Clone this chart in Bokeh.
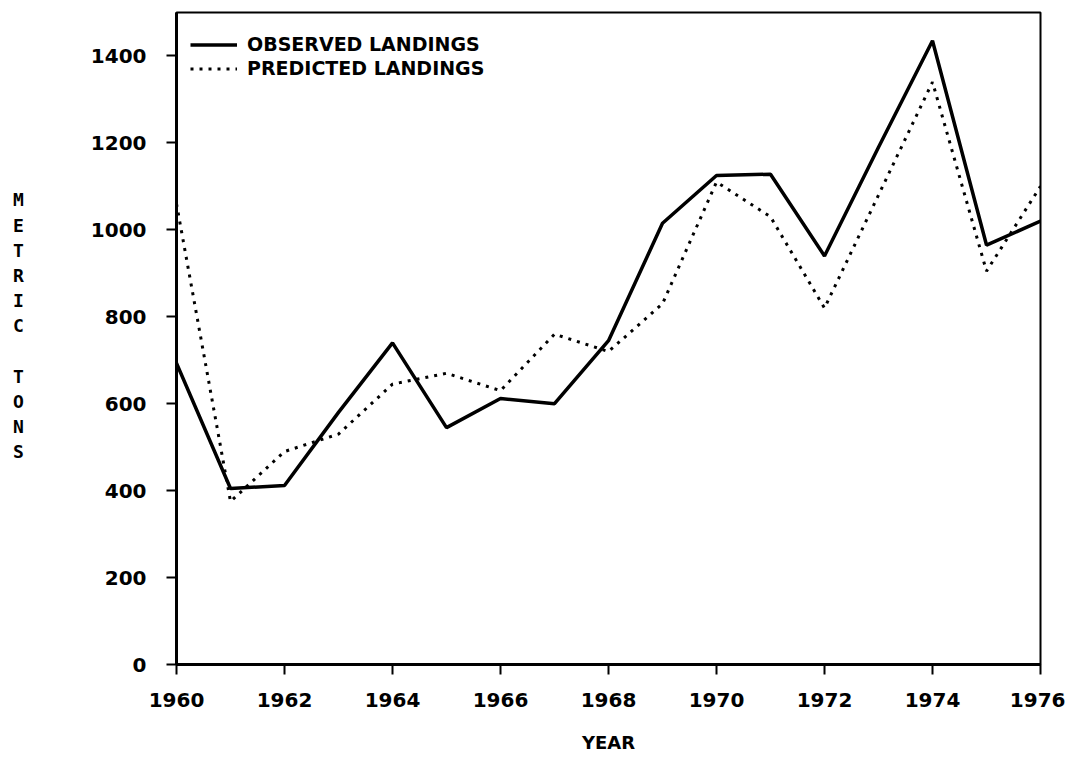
from bokeh.plotting import figure
from bokeh.models import Range1d, FixedTicker, Legend, LegendItem
from bokeh.embed import file_html
from bokeh.resources import INLINE

# ---- data ----
years = list(range(1960, 1977))
observed = [693, 405, 412, 580, 740, 545, 612, 600, 745, 1015, 1125, 1128, 940, 1190, 1435, 965, 1020]
predicted = [1060, 375, 490, 530, 645, 670, 630, 760, 720, 830, 1110, 1030, 820, 1080, 1340, 905, 1100]
x_ticks = [1960, 1962, 1964, 1966, 1968, 1970, 1972, 1974, 1976]
y_ticks = [0, 200, 400, 600, 800, 1000, 1200, 1400]
series_labels = ["OBSERVED LANDINGS", "PREDICTED LANDINGS"]
x_title = "YEAR"
y_title = "METRIC TONS"

FONT = "DejaVu Sans"

p = figure(width=1065, height=760, output_backend="svg", toolbar_location=None,
           x_range=Range1d(1960, 1976), y_range=Range1d(0, 1500),
           min_border_left=176, min_border_right=25, min_border_top=12,
           min_border_bottom=96)

p.grid.grid_line_color = None
p.outline_line_color = "black"
p.outline_line_width = 2
p.outline_line_alpha = 1.0
p.background_fill_color = "white"
p.border_fill_color = "white"

r_obs = p.line(years, observed, line_color="black", line_width=3.5)
r_pred = p.line(years, predicted, line_color="black", line_width=3, line_dash="3 6")

for ax in (p.xaxis[0], p.yaxis[0]):
    ax.axis_line_width = 3
    ax.axis_line_color = "black"
    ax.major_tick_line_width = 2
    ax.major_tick_line_color = "black"
    ax.major_tick_in = 0
    ax.major_tick_out = 10
    ax.minor_tick_line_color = None
    ax.major_label_text_font = FONT
    ax.major_label_text_font_style = "bold"
    ax.major_label_text_font_size = "20px"
    ax.major_label_text_color = "black"
    ax.axis_label_text_font = FONT
    ax.axis_label_text_font_style = "bold"
    ax.axis_label_text_font_size = "18px"
    ax.axis_label_text_color = "black"

p.xaxis[0].ticker = FixedTicker(ticks=x_ticks)
p.yaxis[0].ticker = FixedTicker(ticks=y_ticks)
p.xaxis[0].major_label_standoff = 18
p.yaxis[0].major_label_standoff = 20
p.xaxis[0].axis_label = x_title
p.xaxis[0].axis_label_standoff = 22
p.yaxis[0].axis_label = "\n".join(list(y_title)) + "\n "
p.yaxis[0].axis_label_orientation = "horizontal"
p.yaxis[0].axis_label_standoff = 64
p.yaxis[0].axis_label_text_font = "DejaVu Sans Mono"

def make_legend(label, renderer, bottom):
    leg = Legend(items=[LegendItem(label=label, renderers=[renderer])],
                 location=(14, bottom))
    leg.border_line_alpha = 0
    leg.background_fill_alpha = 0
    leg.padding = 0
    leg.margin = 0
    leg.spacing = 0
    leg.glyph_width = 47
    leg.glyph_height = 17
    leg.label_height = 17
    leg.label_standoff = 10
    leg.label_text_font = FONT
    leg.label_text_font_style = "bold"
    leg.label_text_font_size = "19px"
    leg.label_text_color = "black"
    return leg

p.add_layout(make_legend(series_labels[0], r_obs, 609), "center")
p.add_layout(make_legend(series_labels[1], r_pred, 585), "center")

open("out.html", "w").write(file_html(p, INLINE))
